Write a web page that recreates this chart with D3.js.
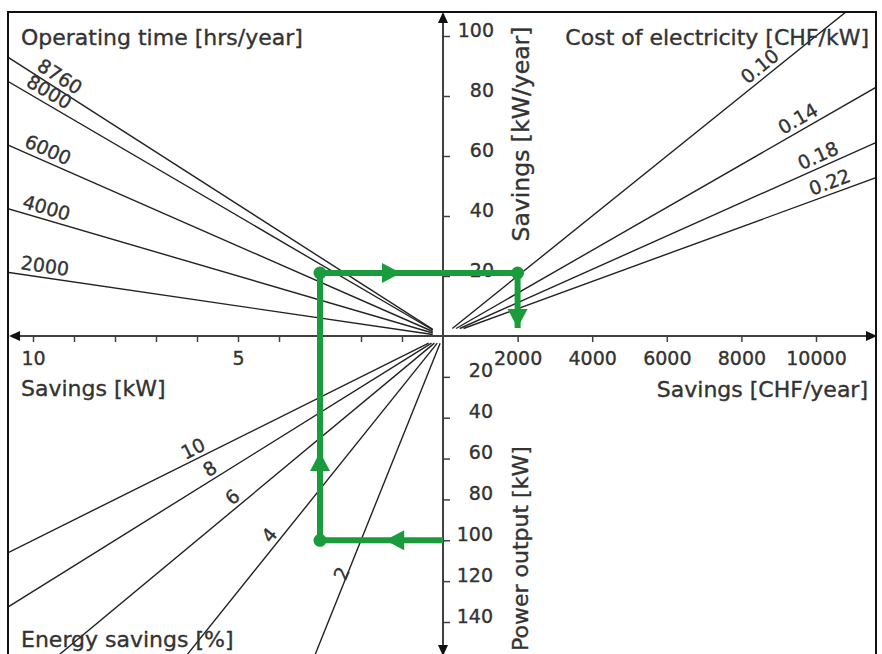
<!DOCTYPE html>
<html><head><meta charset="utf-8">
<script src="https://cdn.jsdelivr.net/npm/d3@7"></script>
<style>
body{margin:0;background:#fff}
svg text{font-family:"DejaVu Sans",sans-serif;fill:#333;stroke:#333;stroke-width:0.35px}
</style>
</head><body>
<svg id="chart" width="882" height="654"></svg>
<script>
// ---------- data ----------
const operatingHours   = [8760, 8000, 6000, 4000, 2000];     // hrs/year (top-left fan)
const electricityCost  = [0.10, 0.14, 0.18, 0.22];           // CHF/kWh (top-right fan)
const energySavingsPct = [10, 8, 6, 4, 2];                   // % (bottom-left fan)
const kwTicks          = [1, 2, 3, 4, 5, 6, 7, 8, 9, 10];
const kwTickLabels     = [10, 5];
const annualTicks      = [20, 40, 60, 80, 100];
const chfTicks         = [2000, 4000, 6000, 8000, 10000];
const powerTicks       = [20, 40, 60, 80, 100, 120, 140];
// worked example (green path)
const examplePowerKW   = 100;
const exampleSavingKW  = 3;
const exampleAnnual    = 21;
const exampleCHF       = 2000;

// ---------- layout ----------
const W = 882, H = 654;
const ox = 443, oy = 336;
const svg = d3.select("#chart");
const xKW  = d3.scaleLinear().domain([0, 10]).range([ox, 33]);
const xCHF = d3.scaleLinear().domain([0, 10000]).range([ox, 816]);
const yAnn = d3.scaleLinear().domain([0, 100]).range([oy, 36]);
const yPow = d3.scaleLinear().domain([0, 140]).range([oy, 622]);
const GREEN = "#1b9c3c";

svg.append("defs").append("clipPath").attr("id", "frameClip")
  .append("rect").attr("x", 9).attr("y", 13).attr("width", 866).attr("height", 660);

const fan = svg.append("g").attr("clip-path", "url(#frameClip)");
const line = d3.line();
const lineStyle = s => s.attr("fill", "none").attr("stroke", "#222").attr("stroke-width", 1.4);

// top-left: annual savings = kW * hours / 1000
operatingHours.forEach(h => {
  fan.append("path").attr("d", line([[xKW(0.25), yAnn(0.25 * h / 1000)], [xKW(12), yAnn(12 * h / 1000)]])).call(lineStyle);
});
// top-right: CHF = MWh * 1000 * cost
electricityCost.forEach(c => {
  fan.append("path").attr("d", line([[xCHF(2.5 * 1000 * c), yAnn(2.5)], [xCHF(150 * 1000 * c), yAnn(150)]])).call(lineStyle);
});
// bottom-left: kW saved = power * pct
energySavingsPct.forEach(p => {
  fan.append("path").attr("d", line([[xKW(3.5 * p / 100), yPow(3.5)], [xKW(300 * p / 100), yPow(300)]])).call(lineStyle);
});

// ---------- fan labels ----------
function labelOnLine(text, ax, ay, bx, by, off) {
  const th = Math.atan2(by - ay, bx - ax);
  const px = ax + off * Math.sin(th), py = ay - off * Math.cos(th);
  svg.append("text").attr("transform", `translate(${px},${py}) rotate(${th * 180 / Math.PI})`)
    .attr("text-anchor", "middle").attr("dominant-baseline", "central")
    .attr("font-size", 19).text(text);
}
const tlLabelKW = [9.5, 9.75, 9.75, 9.75, 9.75];
operatingHours.forEach((h, i) => {
  const k = tlLabelKW[i];
  labelOnLine(String(h), xKW(k), yAnn(k * h / 1000), xKW(0), yAnn(0), 12);
});
electricityCost.forEach(c => {
  const far = [xCHF(100 * 1000 * c), yAnn(100)];
  const dx = far[0] - ox, dy = far[1] - oy, L = Math.hypot(dx, dy);
  const r = 416;
  labelOnLine(c.toFixed(2), ox + dx / L * r, oy + dy / L * r, ox + dx / L * (r + 10), oy + dy / L * (r + 10), 12);
});
const blRadius = [274, 268, 265, 264, 258];
energySavingsPct.forEach((p, i) => {
  const far = [xKW(200 * p / 100), yPow(200)];
  const dx = far[0] - ox, dy = far[1] - oy, L = Math.hypot(dx, dy);
  const r = blRadius[i];
  const a = [ox + dx / L * r, oy + dy / L * r], b = [ox + dx / L * (r - 10), oy + dy / L * (r - 10)];
  labelOnLine(String(p), a[0], a[1], b[0], b[1], p === 2 ? 6 : 11);
});

// ---------- axes ----------
const axisColor = "#404040";
function styleAxis(g) {
  g.select(".domain").remove();
  g.selectAll(".tick line").attr("stroke", axisColor).attr("stroke-width", 1.5);
  g.selectAll(".tick text").attr("font-size", 19).attr("fill", "#333")
    .style("font-family", '"DejaVu Sans",sans-serif');
}
svg.append("g").attr("transform", `translate(0,${oy})`)
  .call(d3.axisBottom(xKW).tickValues(kwTicks).tickSize(6).tickPadding(10)
    .tickFormat(d => kwTickLabels.includes(d) ? d : ""))
  .call(styleAxis);
svg.append("g").attr("transform", `translate(0,${oy})`)
  .call(d3.axisBottom(xCHF).tickValues(chfTicks).tickSize(6).tickPadding(10).tickFormat(d => d))
  .call(styleAxis);
svg.append("g").attr("transform", `translate(${ox},0)`)
  .call(d3.axisRight(yAnn).tickValues(annualTicks).tickSize(7).tickFormat(d => d))
  .call(styleAxis)
  .call(g => g.selectAll(".tick text").attr("text-anchor", "end").attr("x", 51).attr("dy", 0));
svg.append("g").attr("transform", `translate(${ox},0)`)
  .call(d3.axisRight(yPow).tickValues(powerTicks).tickSize(7).tickFormat(d => d))
  .call(styleAxis)
  .call(g => g.selectAll(".tick text").attr("text-anchor", "end").attr("x", 50).attr("dy", 0));

// axis lines with arrowheads
svg.append("line").attr("x1", 16).attr("x2", 868).attr("y1", oy).attr("y2", oy)
  .attr("stroke", axisColor).attr("stroke-width", 2);
svg.append("line").attr("x1", ox).attr("x2", ox).attr("y1", 20).attr("y2", 648)
  .attr("stroke", axisColor).attr("stroke-width", 2);
const arrows = [
  [[9, oy], [20, oy - 5], [20, oy + 5]],
  [[877, oy], [866, oy - 5], [866, oy + 5]],
  [[ox, 12], [ox - 5, 23], [ox + 5, 23]],
  [[ox, 656], [ox - 5, 645], [ox + 5, 645]]
];
arrows.forEach(a => svg.append("path").attr("d", "M" + a.join("L") + "Z").attr("fill", "#111"));

// frame
svg.append("rect").attr("x", 8).attr("y", 12).attr("width", 868).attr("height", 680)
  .attr("fill", "none").attr("stroke", "#111").attr("stroke-width", 2);

// ---------- titles ----------
const title = (x, y, t, anchor, rot, size) => {
  const el = svg.append("text").attr("font-size", size || 22).attr("text-anchor", anchor || "start").text(t);
  if (rot) el.attr("transform", `translate(${x},${y}) rotate(${rot})`);
  else el.attr("x", x).attr("y", y);
};
title(21, 45, "Operating time [hrs/year]");
title(869, 45, "Cost of electricity [CHF/kW]", "end");
title(21, 396, "Savings [kW]");
title(868, 397, "Savings [CHF/year]", "end");
title(21, 647, "Energy savings [%]");
title(529, 134, "Savings [kW/year]", "middle", -90, 23.5);
title(528, 651, "Power output [kW]", "start", -90);

// ---------- green worked example ----------
const pts = [
  [ox, yPow(examplePowerKW)],
  [xKW(exampleSavingKW), yPow(examplePowerKW)],
  [xKW(exampleSavingKW), yAnn(exampleAnnual)],
  [xCHF(exampleCHF), yAnn(exampleAnnual)],
  [xCHF(exampleCHF), yAnn(0) - 8]
];
svg.append("path").attr("d", line(pts)).attr("fill", "none").attr("stroke", GREEN)
  .attr("stroke-width", 6).attr("stroke-linejoin", "round");
[pts[1], pts[2], pts[3]].forEach(p => svg.append("circle").attr("cx", p[0]).attr("cy", p[1]).attr("r", 6.5).attr("fill", GREEN));
function arrowHead(a, b, f) {
  const tx = a[0] + (b[0] - a[0]) * f, ty = a[1] + (b[1] - a[1]) * f;
  const th = Math.atan2(b[1] - a[1], b[0] - a[0]);
  svg.append("path").attr("transform", `translate(${tx},${ty}) rotate(${th * 180 / Math.PI})`)
    .attr("d", "M0,0L-19,-10L-19,10Z").attr("fill", GREEN);
}
arrowHead(pts[0], pts[1], 0.47);
arrowHead(pts[1], pts[2], 0.33);
arrowHead(pts[2], pts[3], 0.41);
arrowHead(pts[3], pts[4], 1.0);
</script>
</body></html>
